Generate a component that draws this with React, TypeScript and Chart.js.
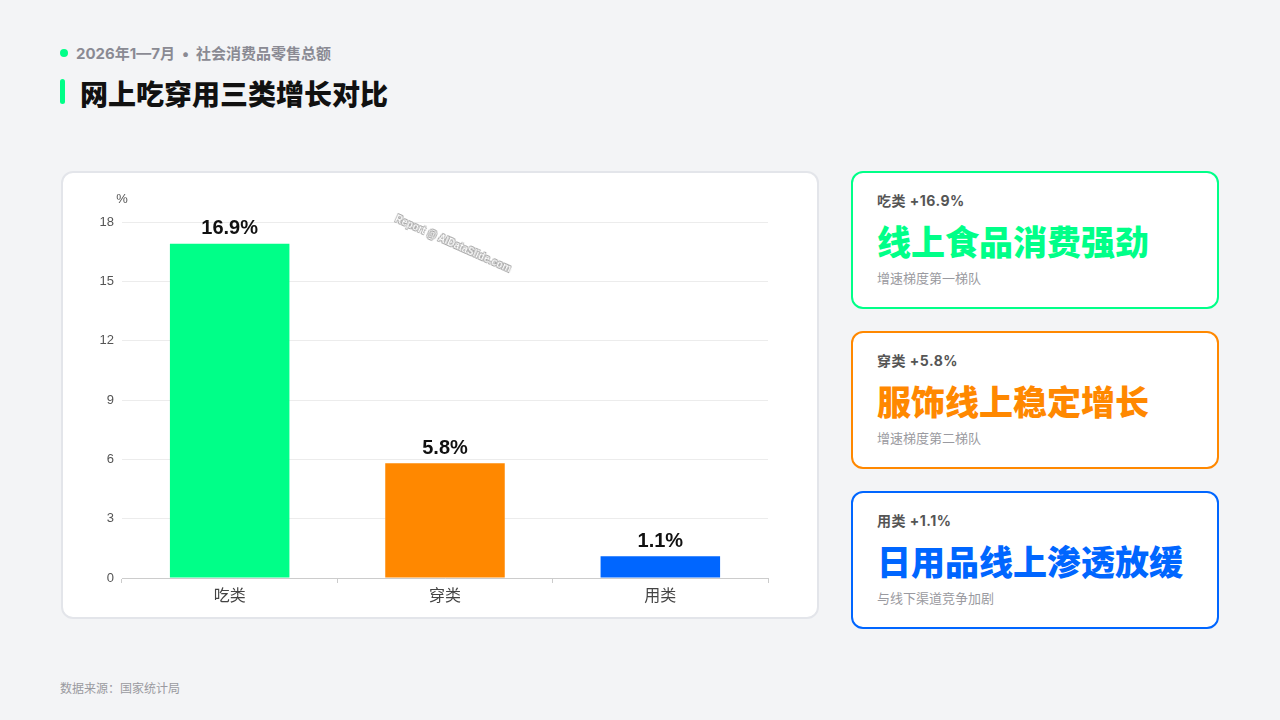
import React, { useEffect, useRef } from "react";
import { Chart, registerables } from "chart.js";

Chart.register(...registerables);

const categories = ["吃类", "穿类", "用类"];
const growthValues = [16.9, 5.8, 1.1];
const barColors = ["#00FF88", "#FF8800", "#0066FF"];
const yTicks = [0, 3, 6, 9, 12, 15, 18];

const cardLabels = ["吃类 +16.9%", "穿类 +5.8%", "用类 +1.1%"];
const cardTitles = ["线上食品消费强劲", "服饰线上稳定增长", "日用品线上渗透放缓"];
const cardNotes = ["增速梯度第一梯队", "增速梯度第二梯队", "与线下渠道竞争加剧"];

const CJK = '"Noto Sans CJK SC", "Noto Sans", sans-serif';
const MIXED = 'Inter, "Noto Sans CJK SC", sans-serif';
const LATIN = '"Liberation Sans", Arial, sans-serif';

const labelPlugin = {
  id: "barLabels",
  afterDatasetsDraw(chart: any) {
    const ctx = chart.ctx;
    const meta = chart.getDatasetMeta(0);
    ctx.save();
    ctx.font = `bold 20px ${LATIN}`;
    ctx.fillStyle = "#111111";
    ctx.textAlign = "center";
    ctx.textBaseline = "bottom";
    meta.data.forEach((bar: any, i: number) => {
      ctx.fillText(`${growthValues[i]}%`, bar.x, bar.y - 5);
    });
    const area = chart.chartArea;
    ctx.font = `13px ${LATIN}`;
    ctx.fillStyle = "#555555";
    ctx.textBaseline = "middle";
    ctx.fillText("%", area.left, area.top - 23);
    ctx.restore();
  },
};

function BarChart() {
  const ref = useRef<HTMLCanvasElement | null>(null);
  useEffect(() => {
    if (!ref.current) return;
    const chart = new Chart(ref.current, {
      type: "bar",
      data: {
        labels: categories,
        datasets: [
          {
            data: growthValues,
            backgroundColor: barColors,
            borderWidth: 0,
            categoryPercentage: 1,
            barPercentage: 0.555,
          },
        ],
      },
      options: {
        animation: false,
        responsive: false,
        maintainAspectRatio: false,
        layout: { padding: { left: 21, right: 51, top: 51, bottom: 0 } },
        plugins: {
          legend: { display: false },
          tooltip: { enabled: false },
        },
        scales: {
          x: {
            grid: {
              display: true,
              drawOnChartArea: false,
              drawTicks: true,
              tickLength: 5,
              color: "#cccccc",
            },
            border: { display: true, color: "#cccccc", width: 1 },
            ticks: {
              color: "#444444",
              font: { family: CJK, size: 16 },
              padding: 2,
            },
            afterFit: (s: any) => {
              s.height = 41;
            },
          },
          y: {
            min: 0,
            max: 18,
            afterBuildTicks: (s: any) => {
              s.ticks = yTicks.map((v) => ({ value: v }));
            },
            grid: { color: "#ececec", drawTicks: false },
            border: { display: false },
            ticks: {
              color: "#555555",
              font: { family: LATIN, size: 13 },
              padding: 8,
            },
            afterFit: (s: any) => {
              s.width = 40;
            },
          },
        },
      },
      plugins: [labelPlugin],
    });
    return () => chart.destroy();
  }, []);
  return (
    <canvas
      ref={ref}
      width={758}
      height={448}
      style={{ position: "absolute", left: 0, top: 0, width: 758, height: 448 }}
    />
  );
}

export default function App() {
  const cardTops = [171, 331, 491];
  return (
    <div
      style={{
        position: "fixed",
        left: 0,
        top: 0,
        width: 1280,
        height: 720,
        background: "#f3f4f6",
        fontFamily: CJK,
        overflow: "hidden",
      }}
    >
      <div
        style={{
          position: "absolute",
          left: 60,
          top: 49,
          width: 8,
          height: 8,
          borderRadius: 4,
          background: "#00FF88",
        }}
      />
      <div
        style={{
          position: "absolute",
          left: 76,
          top: 44,
          lineHeight: "20px",
          fontSize: 15,
          fontWeight: 700,
          fontFamily: MIXED,
          color: "#8a8a93",
          whiteSpace: "nowrap",
        }}
      >
        2026年1—7月<span style={{ margin: "0 7px" }}>•</span>社会消费品零售总额
      </div>
      <div
        style={{
          position: "absolute",
          left: 60,
          top: 79,
          width: 5,
          height: 25,
          borderRadius: 3,
          background: "#00FF88",
        }}
      />
      <div
        style={{
          position: "absolute",
          left: 80,
          top: 75,
          lineHeight: "36px",
          fontSize: 28,
          fontWeight: 900,
          color: "#111111",
          whiteSpace: "nowrap",
        }}
      >
        网上吃穿用三类增长对比
      </div>

      <div
        style={{
          position: "absolute",
          left: 61,
          top: 171,
          width: 754,
          height: 444,
          background: "#ffffff",
          border: "2px solid #e3e5ea",
          borderRadius: 12,
          boxSizing: "content-box",
          overflow: "hidden",
        }}
      >
        <div style={{ position: "absolute", left: -2, top: -2, width: 758, height: 448 }}>
          <BarChart />
        </div>
        <div
          style={{
            position: "absolute",
            left: 453 - 63,
            top: 244 - 173,
            transform: "translate(-50%, -50%) rotate(24deg)",
            fontFamily: LATIN,
            fontSize: 10,
            fontWeight: 700,
            color: "#ffffff",
            textShadow:
              "0 0 1px #8c8c8c, 0.6px 0.6px 0 #aaaaaa, -0.6px -0.6px 0 #aaaaaa, 0.6px -0.6px 0 #aaaaaa, -0.6px 0.6px 0 #aaaaaa",
            whiteSpace: "nowrap",
            lineHeight: "12px",
          }}
        >
          Report @ AIDataSlide.com
        </div>
      </div>

      {cardTops.map((top, i) => (
        <div
          key={i}
          style={{
            position: "absolute",
            left: 851,
            top,
            width: 364,
            height: 134,
            background: "#ffffff",
            border: `2px solid ${barColors[i]}`,
            borderRadius: 12,
          }}
        >
          <div
            style={{
              position: "absolute",
              left: 24,
              top: 18,
              fontSize: 14,
              lineHeight: "20px",
              fontWeight: 700,
              fontFamily: MIXED,
              letterSpacing: "0.5px",
              color: "#555555",
              whiteSpace: "nowrap",
            }}
          >
            {cardLabels[i]}
          </div>
          <div
            style={{
              position: "absolute",
              left: 24,
              top: 46,
              fontSize: 34,
              lineHeight: "44px",
              fontWeight: 900,
              color: barColors[i],
              whiteSpace: "nowrap",
            }}
          >
            {cardTitles[i]}
          </div>
          <div
            style={{
              position: "absolute",
              left: 24,
              top: 96,
              fontSize: 13,
              lineHeight: "18px",
              color: "#9a9aa0",
              whiteSpace: "nowrap",
            }}
          >
            {cardNotes[i]}
          </div>
        </div>
      ))}

      <div
        style={{
          position: "absolute",
          left: 60,
          top: 680,
          fontSize: 12,
          lineHeight: "16px",
          color: "#9a9aa0",
          whiteSpace: "nowrap",
        }}
      >
        数据来源：国家统计局
      </div>
    </div>
  );
}
